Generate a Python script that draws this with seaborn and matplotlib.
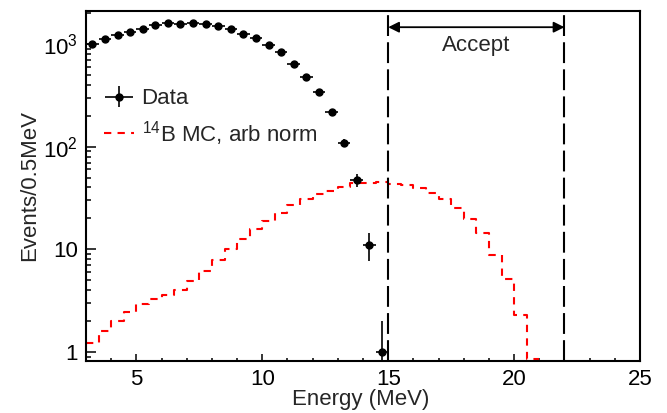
import numpy as np
import seaborn as sns
import matplotlib.pyplot as plt
from matplotlib.ticker import MultipleLocator, LogLocator, FixedLocator, FixedFormatter
from matplotlib.container import ErrorbarContainer
from matplotlib.legend_handler import HandlerErrorbar

# data: counts per 0.5 MeV bin, bin centres 3.25 ... 14.75 MeV
DATA_CENTERS = [3.25, 3.75, 4.25, 4.75, 5.25, 5.75, 6.25, 6.75, 7.25, 7.75, 8.25, 8.75,
                9.25, 9.75, 10.25, 10.75, 11.25, 11.75, 12.25, 12.75, 13.25, 13.75, 14.25, 14.75]
DATA_COUNTS = [993, 1119, 1232, 1309, 1409, 1521, 1612, 1577, 1592, 1556, 1507, 1409,
               1243, 1144, 985, 830, 634, 481, 339, 216, 109, 47, 11, 1]

# 14B MC, arbitrary normalisation, bin edges 3.0 ... 21.0 MeV
MC_EDGES = [3.0 + 0.5 * i for i in range(37)]
MC_VALUES = [1.22, 1.6, 2.02, 2.45, 2.91, 3.28, 3.59, 4.04, 4.91, 6.15, 7.87, 10.1,
             12.7, 15.7, 19.0, 22.7, 27.0, 30.7, 34.3, 37.2, 40.7, 44.0, 44.6, 45.0,
             43.5, 42.5, 39.3, 35.1, 30.7, 25.4, 19.7, 14.3, 8.9, 5.1, 2.3, 0.85]

ACCEPT = [15, 22]
Y_TICKS = [1, 10, 100, 1000]
Y_TICK_LABELS = ["1", "10", r"$\mathregular{10^{2}}$", r"$\mathregular{10^{3}}$"]

FS = 16


def main():
    sns.set_theme(style="ticks")
    plt.rcParams["font.family"] = ["Liberation Sans", "DejaVu Sans"]
    plt.rcParams["font.size"] = FS

    fig = plt.figure(figsize=(6.67, 4.13), dpi=100)
    ax = fig.add_axes([0.129, 0.126, 0.8305, 0.848])
    ax.set_yscale("log")

    mc_centers = [(a + b) / 2 for a, b in zip(MC_EDGES[:-1], MC_EDGES[1:])]
    sns.histplot(
        x=mc_centers,
        weights=MC_VALUES,
        bins=MC_EDGES,
        element="step",
        fill=False,
        color="#FF0000",
        linewidth=1.5,
        linestyle=(0, (3.5, 3)),
        ax=ax,
    )

    counts = np.array(DATA_COUNTS, dtype=float)
    data = ax.errorbar(
        DATA_CENTERS,
        counts,
        xerr=0.25,
        yerr=np.sqrt(counts),
        fmt="o",
        color="black",
        markersize=5,
        elinewidth=1.2,
        capsize=0,
        label="Data",
        zorder=3,
    )

    for x in ACCEPT:
        ax.axvline(x, color="black", linewidth=1.5, linestyle=(0, (10, 3)))
    ax.annotate(
        "",
        xy=(ACCEPT[0], 0.953),
        xytext=(ACCEPT[1], 0.953),
        xycoords=("data", "axes fraction"),
        textcoords=("data", "axes fraction"),
        arrowprops=dict(arrowstyle="<|-|>", color="black", lw=1.3,
                        mutation_scale=16, shrinkA=0, shrinkB=0),
    )
    ax.text(sum(ACCEPT) / 2, 0.902, "Accept", transform=ax.get_xaxis_transform(),
            ha="center", va="center", fontsize=FS)

    ax.set_xlim(3, 25)
    ax.set_ylim(0.82, 2100)
    ax.xaxis.set_major_locator(MultipleLocator(5))
    ax.xaxis.set_minor_locator(MultipleLocator(1))
    ax.yaxis.set_major_locator(FixedLocator(Y_TICKS))
    ax.yaxis.set_major_formatter(FixedFormatter(Y_TICK_LABELS))
    ax.yaxis.set_minor_locator(LogLocator(base=10, subs=np.arange(2, 10)))
    ax.tick_params(axis="both", which="both", direction="in", colors="black",
                   labelsize=FS, width=1.1, top=False, right=False)
    ax.tick_params(axis="x", which="major", length=5, pad=6)
    ax.tick_params(axis="x", which="minor", length=2.5)
    ax.tick_params(axis="y", which="major", length=7.2, pad=6)
    ax.tick_params(axis="y", which="minor", length=3.6, labelleft=False)
    for spine in ax.spines.values():
        spine.set_linewidth(1.5)
        spine.set_color("black")

    ax.set_xlabel("Energy (MeV)", fontsize=FS)
    ax.set_ylabel("Events/0.5MeV", fontsize=FS)
    ax.xaxis.set_label_coords(0.495, -0.111)
    ax.xaxis.label.set_verticalalignment("center")
    ax.yaxis.set_label_coords(-0.101, 0.5)
    ax.yaxis.label.set_verticalalignment("center")

    mc_line = ax.get_lines()[0]
    ax.legend(
        handles=[data, mc_line],
        labels=["Data", r"$\mathregular{^{14}}$B MC, arb norm"],
        loc="upper left",
        bbox_to_anchor=(0.032, 0.778),
        frameon=False,
        fontsize=FS,
        borderpad=0,
        borderaxespad=0,
        handlelength=1.35,
        handletextpad=0.35,
        labelspacing=0.42,
        numpoints=1,
        handler_map={ErrorbarContainer: HandlerErrorbar(xerr_size=0.62, yerr_size=0.48)},
    )

    fig.savefig("out.png", dpi=100, facecolor="white")


if __name__ == "__main__":
    main()
